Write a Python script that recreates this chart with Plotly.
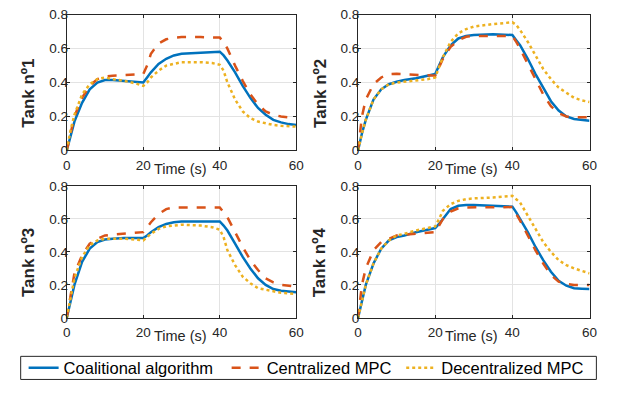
import plotly.graph_objects as go

# ---------------- data ----------------
t = [0, 1, 2, 4, 6, 8, 10, 12, 15, 18, 20, 21, 22, 24, 26, 28, 30, 35, 38, 40,
     41, 42, 44, 46, 48, 50, 52, 54, 56, 58, 60]

tank1_coal = [0, 0.09, 0.17, 0.28, 0.36, 0.40, 0.415, 0.415, 0.41, 0.405, 0.40, 0.43, 0.46, 0.51, 0.54, 0.56, 0.57, 0.575, 0.58, 0.582,
              0.56, 0.53, 0.46, 0.38, 0.31, 0.25, 0.21, 0.18, 0.165, 0.155, 0.15]
tank1_cent = [0, 0.11, 0.20, 0.31, 0.38, 0.42, 0.435, 0.44, 0.445, 0.448, 0.45, 0.50, 0.57, 0.63, 0.655, 0.665, 0.668, 0.668, 0.668, 0.665,
              0.64, 0.60, 0.50, 0.41, 0.33, 0.27, 0.23, 0.21, 0.20, 0.195, 0.19]
tank1_dec = [0, 0.12, 0.21, 0.33, 0.39, 0.42, 0.43, 0.42, 0.41, 0.395, 0.38, 0.40, 0.43, 0.47, 0.50, 0.51, 0.52, 0.52, 0.515, 0.505,
             0.47, 0.40, 0.30, 0.23, 0.19, 0.17, 0.16, 0.15, 0.145, 0.142, 0.14]

tank2_coal = [0, 0.10, 0.18, 0.30, 0.36, 0.39, 0.405, 0.415, 0.425, 0.44, 0.45, 0.50, 0.55, 0.62, 0.66, 0.675, 0.68, 0.685, 0.683, 0.68,
              0.65, 0.62, 0.54, 0.45, 0.37, 0.29, 0.235, 0.20, 0.185, 0.18, 0.175]
tank2_cent = [0, 0.20, 0.30, 0.39, 0.43, 0.45, 0.452, 0.45, 0.445, 0.442, 0.44, 0.49, 0.54, 0.61, 0.65, 0.67, 0.675, 0.675, 0.675, 0.675,
              0.64, 0.60, 0.51, 0.42, 0.33, 0.26, 0.22, 0.20, 0.195, 0.195, 0.195]
tank2_dec = [0, 0.10, 0.18, 0.30, 0.36, 0.39, 0.40, 0.405, 0.41, 0.42, 0.43, 0.49, 0.55, 0.64, 0.69, 0.715, 0.73, 0.745, 0.75, 0.755,
             0.74, 0.71, 0.64, 0.56, 0.48, 0.42, 0.37, 0.34, 0.31, 0.295, 0.285]

tank3_coal = [0, 0.11, 0.20, 0.34, 0.42, 0.46, 0.475, 0.48, 0.485, 0.485, 0.485, 0.50, 0.52, 0.55, 0.57, 0.58, 0.585, 0.585, 0.585, 0.585,
              0.56, 0.53, 0.45, 0.37, 0.30, 0.24, 0.20, 0.175, 0.165, 0.158, 0.155]
tank3_cent = [0, 0.15, 0.27, 0.38, 0.45, 0.48, 0.50, 0.505, 0.51, 0.515, 0.52, 0.55, 0.58, 0.63, 0.66, 0.67, 0.67, 0.67, 0.67, 0.67,
              0.64, 0.61, 0.52, 0.43, 0.35, 0.29, 0.24, 0.215, 0.20, 0.195, 0.19]
tank3_dec = [0, 0.13, 0.24, 0.37, 0.44, 0.47, 0.48, 0.48, 0.48, 0.475, 0.47, 0.49, 0.51, 0.54, 0.555, 0.56, 0.565, 0.56, 0.55, 0.535,
             0.49, 0.41, 0.32, 0.25, 0.21, 0.18, 0.17, 0.16, 0.152, 0.148, 0.145]

tank4_coal = [0, 0.11, 0.20, 0.33, 0.42, 0.47, 0.49, 0.50, 0.52, 0.535, 0.545, 0.57, 0.60, 0.66, 0.68, 0.685, 0.685, 0.68, 0.678, 0.675,
              0.64, 0.60, 0.52, 0.43, 0.35, 0.28, 0.225, 0.195, 0.18, 0.177, 0.175]
tank4_cent = [0, 0.20, 0.30, 0.41, 0.46, 0.48, 0.50, 0.505, 0.51, 0.518, 0.52, 0.56, 0.60, 0.645, 0.665, 0.67, 0.67, 0.671, 0.672, 0.672,
              0.63, 0.59, 0.50, 0.41, 0.33, 0.26, 0.22, 0.205, 0.20, 0.20, 0.20]
tank4_dec = [0, 0.11, 0.20, 0.33, 0.42, 0.47, 0.50, 0.51, 0.53, 0.545, 0.555, 0.60, 0.65, 0.69, 0.71, 0.72, 0.725, 0.73, 0.735, 0.74,
             0.72, 0.70, 0.62, 0.54, 0.46, 0.40, 0.35, 0.32, 0.30, 0.285, 0.27]

tanks = [
    ("Tank nº1", tank1_coal, tank1_cent, tank1_dec),
    ("Tank nº2", tank2_coal, tank2_cent, tank2_dec),
    ("Tank nº3", tank3_coal, tank3_cent, tank3_dec),
    ("Tank nº4", tank4_coal, tank4_cent, tank4_dec),
]
series_names = ["Coalitional algorithm", "Centralized MPC", "Decentralized MPC"]
x_ticks = [0, 20, 40, 60]
y_ticks = [0, 0.2, 0.4, 0.6, 0.8]
y_ticktext = ["0", "0.2", "0.4", "0.6", "0.8"]

# ---------------- layout ----------------
W, H = 624, 399
colors = ["#0072BD", "#D95319", "#EDB120"]
dashes = ["solid", "dash", "dot"]
axis_col = "#262626"
font_fam = "Liberation Sans, Arial, sans-serif"
legend_ids = ["legend", "legend2", "legend3"]
legend_x_px = [20, 227, 405]

# pixel boxes: (x0, x1, ytop, ybottom)
boxes = [(64, 298, 8, 149), (361, 597, 8, 149), (64, 298, 186, 323), (361, 597, 186, 323)]

fig = go.Figure()
annotations = []
for i, (title, c, ce, d) in enumerate(tanks):
    ax = "" if i == 0 else str(i + 1)
    for k, ys in enumerate([c, ce, d]):
        fig.add_trace(go.Scatter(
            x=t, y=ys, mode="lines", name=series_names[k],
            line=dict(color=colors[k], width=2.5, dash=dashes[k]),
            showlegend=(i == 0), legend=legend_ids[k],
            xaxis="x" + ax, yaxis="y" + ax))
    x0, x1, yt, yb = boxes[i]
    common = dict(showline=True, linecolor=axis_col, linewidth=1, mirror="ticks",
                  ticks="inside", ticklen=3, tickcolor=axis_col,
                  showgrid=True, gridcolor="#e3e3e3", gridwidth=1, zeroline=False,
                  tickfont=dict(size=13.5, color=axis_col, family=font_fam))
    fig.update_layout(**{
        "xaxis" + ax: dict(domain=[x0 / W, x1 / W], range=[0, 60], tickvals=x_ticks,
                           ticklabelstandoff=2, anchor="y" + ax, **common),
        "yaxis" + ax: dict(domain=[1 - yb / H, 1 - yt / H], range=[0, 0.8], tickvals=y_ticks,
                           ticktext=y_ticktext, ticklabelstandoff=-5,
                           anchor="x" + ax, **common),
    })
    annotations.append(dict(text="Time (s)", x=(x0 + 116) / W,
                            y=1 - (yb + 19) / H, xref="paper", yref="paper",
                            showarrow=False, xanchor="center", yanchor="middle",
                            font=dict(size=14.5, color=axis_col, family=font_fam)))
    annotations.append(dict(text="<b>" + title + "</b>", x=(x0 - 39) / W,
                            y=1 - ((yt + yb) / 2 + 11) / H,
                            xref="paper", yref="paper", showarrow=False, textangle=-90,
                            xanchor="center", yanchor="middle",
                            font=dict(size=17, color=axis_col, family=font_fam)))

legend_style = dict(orientation="h", xanchor="left", y=1 - 375 / H, yanchor="middle",
                    borderwidth=0, bgcolor="rgba(0,0,0,0)",
                    font=dict(size=16.5, color="black", family=font_fam), itemwidth=30)
fig.update_layout(
    width=W, height=H, margin=dict(l=0, r=0, t=0, b=0),
    paper_bgcolor="white", plot_bgcolor="white",
    annotations=annotations,
    shapes=[dict(type="rect", xref="paper", yref="paper",
                 x0=17 / W, x1=604 / W, y0=1 - 387 / H, y1=1 - 363 / H,
                 line=dict(color=axis_col, width=1), fillcolor="rgba(0,0,0,0)")],
    legend=dict(x=legend_x_px[0] / W, **legend_style),
    legend2=dict(x=legend_x_px[1] / W, **legend_style),
    legend3=dict(x=legend_x_px[2] / W, **legend_style),
)

fig.write_html("out.html")
